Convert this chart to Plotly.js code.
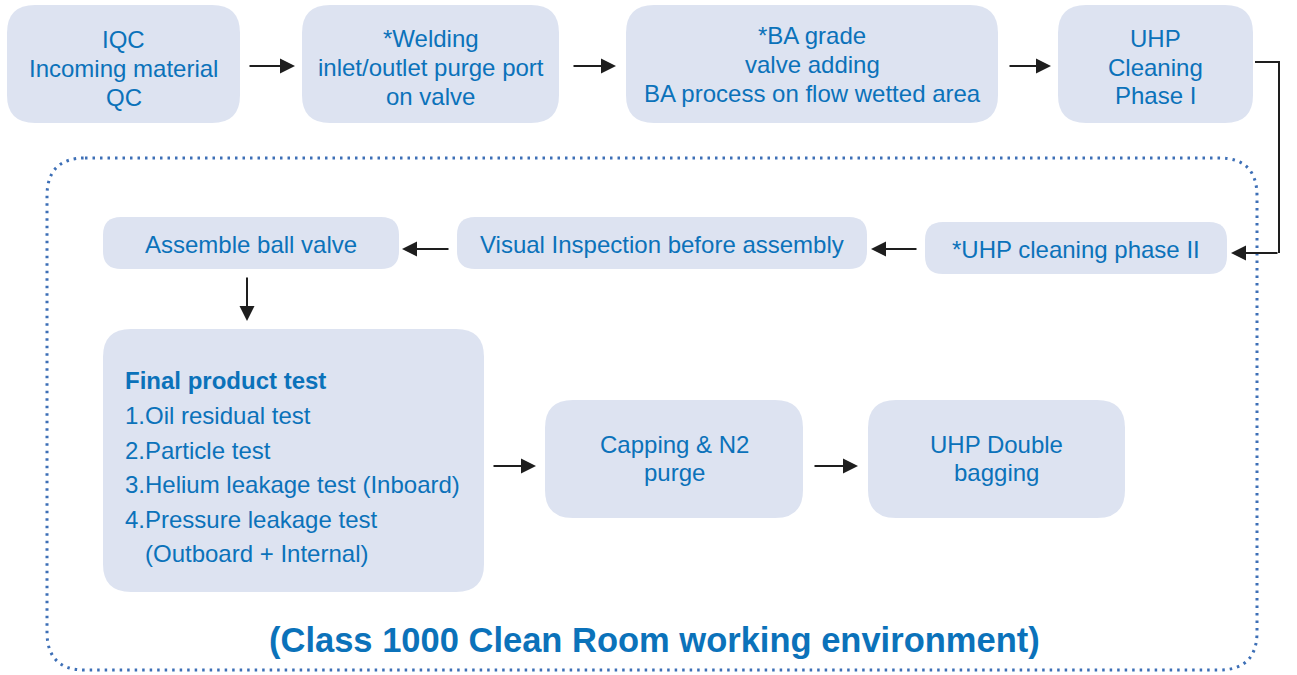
<!DOCTYPE html>
<html><head><meta charset="utf-8">
<script src="https://cdn.plot.ly/plotly-3.0.1.min.js"></script>
<style>html,body{margin:0;padding:0;background:#fff;}#chart{width:1297px;height:675px;}</style>
</head><body><div id="chart"></div>
<script>
// ---- content ----
var stepLabels = [
  "IQC<br>Incoming material<br>QC",
  "*Welding<br>inlet/outlet purge port<br>on valve",
  "*BA grade<br>valve adding<br>BA process on flow wetted area",
  "UHP<br>Cleaning<br>Phase I",
  "*UHP cleaning phase II",
  "Visual Inspection before assembly",
  "Assemble ball valve",
  "Capping & N2<br>purge",
  "UHP Double<br>bagging"
];
var testTitle = "Final product test";
var testItems = ["1.Oil residual test", "2.Particle test", "3.Helium leakage test (Inboard)", "4.Pressure leakage test", "  (Outboard + Internal)"];
var envLabel = "(Class 1000 Clean Room working environment)";

// ---- geometry (pixels) ----
var boxX0 = [7, 302, 626, 1058, 925, 457, 103, 545, 868];
var boxX1 = [240, 559, 998, 1253, 1227, 867, 399, 803, 1125];
var boxY0 = [5, 5, 5, 5, 222, 217, 217, 400, 400];
var boxY1 = [123, 123, 123, 123, 274, 269, 269, 518, 518];
var textMidY = [68.5, 67.5, 64.5, 67, 249, 244, 244, 458.5, 458.5];
var testBox = [103, 329, 484, 592];

var FILL = "#dde3f1", TXT = "#0b72ba", ARROW = "#1e1e1e", DOT = "#3d6fb6";
var FONT = "Liberation Sans, Arial, sans-serif";
var LINE = 28.7;

function rr(x0, y0, x1, y1, r) {
  return "M" + (x0 + r) + "," + y0 + " L" + (x1 - r) + "," + y0 +
    " Q" + x1 + "," + y0 + " " + x1 + "," + (y0 + r) +
    " L" + x1 + "," + (y1 - r) + " Q" + x1 + "," + y1 + " " + (x1 - r) + "," + y1 +
    " L" + (x0 + r) + "," + y1 + " Q" + x0 + "," + y1 + " " + x0 + "," + (y1 - r) +
    " L" + x0 + "," + (y0 + r) + " Q" + x0 + "," + y0 + " " + (x0 + r) + "," + y0 + " Z";
}

var shapes = [];
var annotations = [];

// dotted clean room border
shapes.push({type: "path", xref: "x", yref: "y", path: rr(47, 158, 1257, 670, 38),
  line: {color: DOT, width: 3, dash: "2.5px,5px"}, fillcolor: "rgba(0,0,0,0)"});

for (var i = 0; i < stepLabels.length; i++) {
  var h = boxY1[i] - boxY0[i];
  var r = h > 80 ? 28 : 18;
  shapes.push({type: "path", xref: "x", yref: "y", path: rr(boxX0[i], boxY0[i], boxX1[i], boxY1[i], r),
    line: {width: 0}, fillcolor: FILL});
  var lines = stepLabels[i].split("<br>");
  for (var j = 0; j < lines.length; j++) {
    annotations.push({xref: "x", yref: "y", x: (boxX0[i] + boxX1[i]) / 2,
      y: textMidY[i] + (j - (lines.length - 1) / 2) * LINE,
      text: lines[j], showarrow: false, align: "center", xanchor: "center", yanchor: "middle",
      font: {family: FONT, size: 24, color: TXT}});
  }
}
shapes.push({type: "path", xref: "x", yref: "y", path: rr(testBox[0], testBox[1], testBox[2], testBox[3], 28),
  line: {width: 0}, fillcolor: FILL});
annotations.push({xref: "x", yref: "y", x: 123, y: 380, text: "<b>" + testTitle + "</b>", showarrow: false,
  xanchor: "left", yanchor: "middle", font: {family: FONT, size: 24, color: TXT}});
var itemY = [415, 450, 484, 519, 553];
for (var k = 0; k < testItems.length; k++) {
  var t = testItems[k];
  var indent = t.indexOf("  ") === 0;
  annotations.push({xref: "x", yref: "y", x: indent ? 143 : 123, y: itemY[k], text: t.trim(), showarrow: false,
    xanchor: "left", yanchor: "middle", font: {family: FONT, size: 24, color: TXT}});
}
annotations.push({xref: "x", yref: "y", x: 654, y: 640, text: "<b>" + envLabel + "</b>", showarrow: false,
  xanchor: "center", yanchor: "middle", font: {family: FONT, size: 34.5, color: TXT}});

// arrows: [fromX, fromY, toX, toY]
var arrows = [
  [248, 66, 295, 66], [572, 66, 616, 66], [1008, 66, 1051, 66],
  [918, 249, 871, 249], [450, 249, 402, 249],
  [247, 276, 247, 321],
  [492, 466, 536, 466], [813, 466, 858, 466],
  [1279, 253, 1231, 253]
];
arrows.forEach(function (a) {
  annotations.push({xref: "x", yref: "y", axref: "x", ayref: "y", x: a[2], y: a[3], ax: a[0], ay: a[1],
    text: "", showarrow: true, arrowhead: 2, arrowsize: 1.5, arrowwidth: 2, arrowcolor: ARROW});
});
// elbow connector line
shapes.push({type: "path", xref: "x", yref: "y", path: "M1255,62 L1279,62 L1279,253",
  line: {color: ARROW, width: 2}, fillcolor: "rgba(0,0,0,0)"});

var layout = {
  width: 1297, height: 675,
  margin: {l: 0, r: 0, t: 0, b: 0},
  paper_bgcolor: "#ffffff", plot_bgcolor: "#ffffff",
  xaxis: {range: [0, 1297], visible: false, fixedrange: true},
  yaxis: {range: [675, 0], visible: false, fixedrange: true},
  showlegend: false,
  shapes: shapes, annotations: annotations
};
Plotly.newPlot("chart", [{x: [0], y: [0], mode: "markers", marker: {opacity: 0}, hoverinfo: "skip"}], layout, {displayModeBar: false, staticPlot: true});
</script></body></html>
